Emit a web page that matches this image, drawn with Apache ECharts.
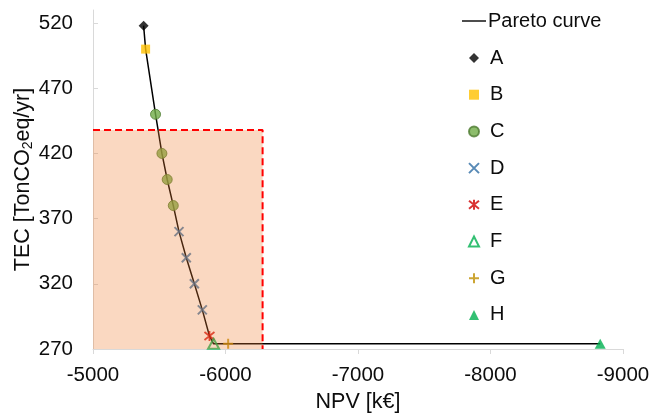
<!DOCTYPE html>
<html>
<head>
<meta charset="utf-8">
<script src="https://cdn.jsdelivr.net/npm/echarts@6/dist/echarts.min.js"></script>
<style>
  html, body { margin: 0; padding: 0; background: #fff; }
  #chart { width: 668px; height: 416px; }
</style>
</head>
<body>
<div id="chart"></div>
<script>
// Pareto front: net present value (k€) versus total emitted CO2 (t/yr)
const paretoNPV = [-5382, -5397, -5472, -5520, -5560, -5606, -5649, -5704, -5765, -5825, -5879, -5910, -6020, -8828];
const paretoTEC = [518, 500, 450, 420, 400, 380, 360, 340, 320, 300, 280, 274, 274, 274];
const pointGroup = ['A', 'B', 'C', 'C', 'C', 'C', 'D', 'D', 'D', 'D', 'E', 'F', 'G', 'H'];

// Feasibility limits (shaded region)
const npvLimit = -6280;
const tecLimit = 438;

// Axis ticks
const xTicks = [-5000, -6000, -7000, -8000, -9000];
const yTicks = [270, 320, 370, 420, 470, 520];
const xRange = [-9000, -5000];
const yRange = [270, 530];

const groupNames = ['A', 'B', 'C', 'D', 'E', 'F', 'G', 'H'];

const FONT = '"Liberation Sans", Arial, sans-serif';
const TEXT = '#0d0d0d';
const AXIS = '#d9d9d9';
const NONE = 'rgba(0,0,0,0)';
const TICK_SIZE = 20.5;
const TITLE_SIZE = 21.5;

// Marker style for each group
const markerStyle = {
  A: { symbol: 'diamond', symbolSize: 10, itemStyle: { color: '#000000' } },
  B: { symbol: 'rect', symbolSize: 9, itemStyle: { color: '#FFC000' } },
  C: { symbol: 'circle', symbolSize: 10, itemStyle: { color: '#70AD47', borderColor: '#4E7A31', borderWidth: 1 } },
  D: { symbol: 'path://M0,0L10,10M10,0L0,10', symbolSize: 9,
       itemStyle: { color: NONE, borderColor: '#2E6DA4', borderWidth: 2 } },
  E: { symbol: 'path://M0,1L10,9M10,1L0,9M5,0L5,10', symbolSize: 10,
       itemStyle: { color: NONE, borderColor: '#D00000', borderWidth: 1.8 } },
  F: { symbol: 'triangle', symbolSize: [11, 10],
       itemStyle: { color: NONE, borderColor: '#00B050', borderWidth: 2 } },
  G: { symbol: 'path://M5,0L5,10M0,5L10,5', symbolSize: 10,
       itemStyle: { color: NONE, borderColor: '#BF8F00', borderWidth: 2 } },
  H: { symbol: 'triangle', symbolSize: [11, 10], itemStyle: { color: '#00B050' } }
};

const curveData = paretoNPV.map((x, i) => [x, paretoTEC[i]]);

const scatterSeries = groupNames.map(g => Object.assign({
  name: g,
  type: 'scatter',
  z: 4,
  data: curveData.filter((p, i) => pointGroup[i] === g),
  emphasis: { disabled: true }
}, markerStyle[g]));

const legendText = { fontFamily: FONT, fontSize: 20, lineHeight: 20, color: TEXT };

const chart = echarts.init(document.getElementById('chart'), null, { renderer: 'canvas' });

chart.setOption({
  animation: false,
  textStyle: { fontFamily: FONT },
  grid: { left: 93, right: 45, top: 10, bottom: 67, containLabel: false, outerBoundsMode: 'none' },
  legend: [
    {
      left: 462,
      top: 11,
      padding: 0,
      itemWidth: 24,
      itemHeight: 2,
      selectedMode: false,
      data: [{ name: 'Pareto curve', icon: 'path://M0,0L24,0L24,1.4L0,1.4Z', itemStyle: { color: '#000000' } }],
      textStyle: Object.assign({ padding: [0, 0, 0, -3] }, legendText)
    },
    {
      orient: 'vertical',
      left: 468,
      top: 48,
      padding: 0,
      itemWidth: 10,
      itemHeight: 10,
      itemGap: 16.7,
      selectedMode: false,
      data: groupNames,
      textStyle: Object.assign({ padding: [0, 0, 0, 6] }, legendText)
    }
  ],
  xAxis: {
    type: 'value',
    inverse: true,
    min: xRange[0],
    max: xRange[1],
    interval: 1000,
    name: 'NPV [k€]',
    nameLocation: 'middle',
    nameMoveOverlap: false,
    nameGap: 42,
    nameTextStyle: { fontFamily: FONT, fontSize: TITLE_SIZE, color: TEXT },
    axisLine: { show: true, lineStyle: { color: AXIS, width: 1 } },
    axisTick: { show: true, inside: false, length: 5, customValues: xTicks, lineStyle: { color: AXIS } },
    axisLabel: { customValues: xTicks, formatter: v => String(v), margin: 16,
                 fontFamily: FONT, fontSize: TICK_SIZE, color: TEXT },
    splitLine: { show: false }
  },
  yAxis: {
    type: 'value',
    min: yRange[0],
    max: yRange[1],
    interval: 50,
    name: '{a|TEC [TonCO}{s|2}{a|eq/yr]}',
    nameLocation: 'middle',
    nameMoveOverlap: false,
    nameGap: 58,
    nameTextStyle: {
      fontFamily: FONT, color: TEXT,
      rich: {
        a: { fontFamily: FONT, fontSize: TITLE_SIZE, color: TEXT },
        s: { fontFamily: FONT, fontSize: 14, color: TEXT, verticalAlign: 'bottom', padding: [9, 0, 0, 0] }
      }
    },
    axisLine: { show: true, lineStyle: { color: AXIS, width: 1 } },
    axisTick: { show: true, inside: true, length: 5, customValues: yTicks, lineStyle: { color: AXIS } },
    axisLabel: { customValues: yTicks, margin: 20, fontFamily: FONT, fontSize: TICK_SIZE, color: TEXT },
    splitLine: { show: false }
  },
  series: [
    {
      name: 'Pareto curve',
      type: 'line',
      z: 3,
      data: curveData,
      symbol: 'none',
      itemStyle: { color: '#000000' },
      lineStyle: { color: '#000000', width: 1.5 },
      emphasis: { disabled: true }
    }
  ].concat(scatterSeries, [
    {
      name: 'limits',
      type: 'line',
      z: 20,
      symbol: 'none',
      data: [[xRange[1], tecLimit], [npvLimit, tecLimit], [npvLimit, yRange[0]]],
      lineStyle: { color: '#FF0000', width: 2, type: [7, 4] },
      emphasis: { disabled: true },
      markArea: {
        z: 15,
        silent: true,
        itemStyle: { color: 'rgba(237,125,49,0.3)', borderWidth: 0 },
        data: [[{ coord: [xRange[1], tecLimit] }, { coord: [npvLimit, yRange[0]] }]]
      }
    }
  ])
});
</script>
</body>
</html>
